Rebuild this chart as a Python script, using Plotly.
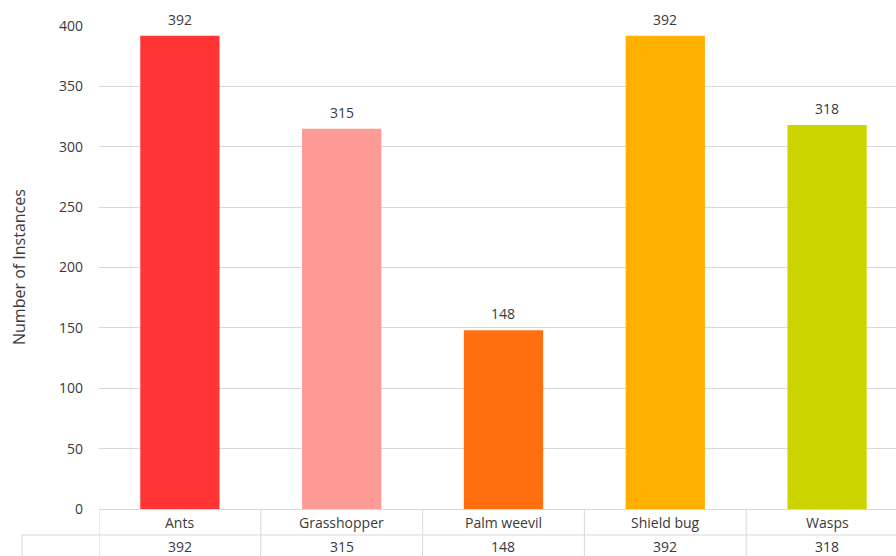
import plotly.graph_objects as go

# Insect classes and their instance counts
categories = ["Ants", "Grasshopper", "Palm weevil", "Shield bug", "Wasps"]
counts = [392, 315, 148, 392, 318]
bar_colors = ["#FF3535", "#FF9B97", "#FF6E10", "#FFB000", "#CCD400"]
y_ticks = [0, 50, 100, 150, 200, 250, 300, 350, 400]

FONT = "'Open Sans', sans-serif"
TEXT = "#3A3A3A"
GRID = "#D9D9D9"

W, H = 896, 556
ML, MT, MB = 99, 26, 47
plot_h = H - MT - MB
plot_w = W - ML

fig = go.Figure(
    go.Bar(
        x=categories,
        y=counts,
        marker=dict(color=bar_colors, line=dict(width=0)),
        width=0.49,
        hoverinfo="x+y",
    )
)

def px_x(px):
    return (px - ML) / plot_w

def px_y(px):
    return (H - MB - px) / plot_h

shapes = []
# Data table under the plot: column separators
for i in range(len(categories)):
    shapes.append(dict(type="line", xref="x", yref="paper",
                       x0=i - 0.5, x1=i - 0.5, y0=0, y1=px_y(H + 5),
                       line=dict(color=GRID, width=1)))
# Row separator and left edge of the value row
shapes.append(dict(type="line", xref="paper", yref="paper",
                   x0=px_x(22), x1=1.05, y0=px_y(535), y1=px_y(535),
                   line=dict(color=GRID, width=1)))
shapes.append(dict(type="line", xref="paper", yref="paper",
                   x0=px_x(22), x1=px_x(22), y0=px_y(535), y1=px_y(H + 5),
                   line=dict(color=GRID, width=1)))

annotations = []
for c, v in zip(categories, counts):
    # value label above each bar
    annotations.append(dict(x=c, xref="x", y=v, yref="y", text=str(v),
                            showarrow=False, yanchor="bottom", yshift=5,
                            font=dict(family=FONT, size=14, color=TEXT)))
    # table rows: category name and value
    annotations.append(dict(x=c, xref="x", y=px_y(522), yref="paper",
                            text=c, showarrow=False, yanchor="middle",
                            font=dict(family=FONT, size=14, color=TEXT)))
    annotations.append(dict(x=c, xref="x", y=px_y(546), yref="paper",
                            text=str(v), showarrow=False, yanchor="middle",
                            font=dict(family=FONT, size=14, color=TEXT)))
annotations.append(dict(x=px_x(18.5), xref="paper", y=px_y(267.5), yref="paper",
                        text="Number of Instances", textangle=-90,
                        showarrow=False, xanchor="center", yanchor="middle",
                        font=dict(family=FONT, size=16, color=TEXT)))

fig.update_layout(
    width=W, height=H,
    margin=dict(l=ML, r=0, t=MT, b=MB, pad=0),
    paper_bgcolor="white", plot_bgcolor="white",
    showlegend=False,
    shapes=shapes,
    annotations=annotations,
    xaxis=dict(type="category", range=[-0.5, 4.426], showticklabels=False,
               showgrid=False, showline=True, linecolor=GRID, linewidth=1,
               ticks="", zeroline=False, fixedrange=True),
    yaxis=dict(range=[0, 400], tickvals=y_ticks, showgrid=True,
               gridcolor=GRID, gridwidth=1, zeroline=False, showline=False,
               ticks="", ticklabelstandoff=15,
               tickfont=dict(family=FONT, size=14, color=TEXT),
               fixedrange=True),
)

fig.write_html("out.html", config={"displayModeBar": False})
